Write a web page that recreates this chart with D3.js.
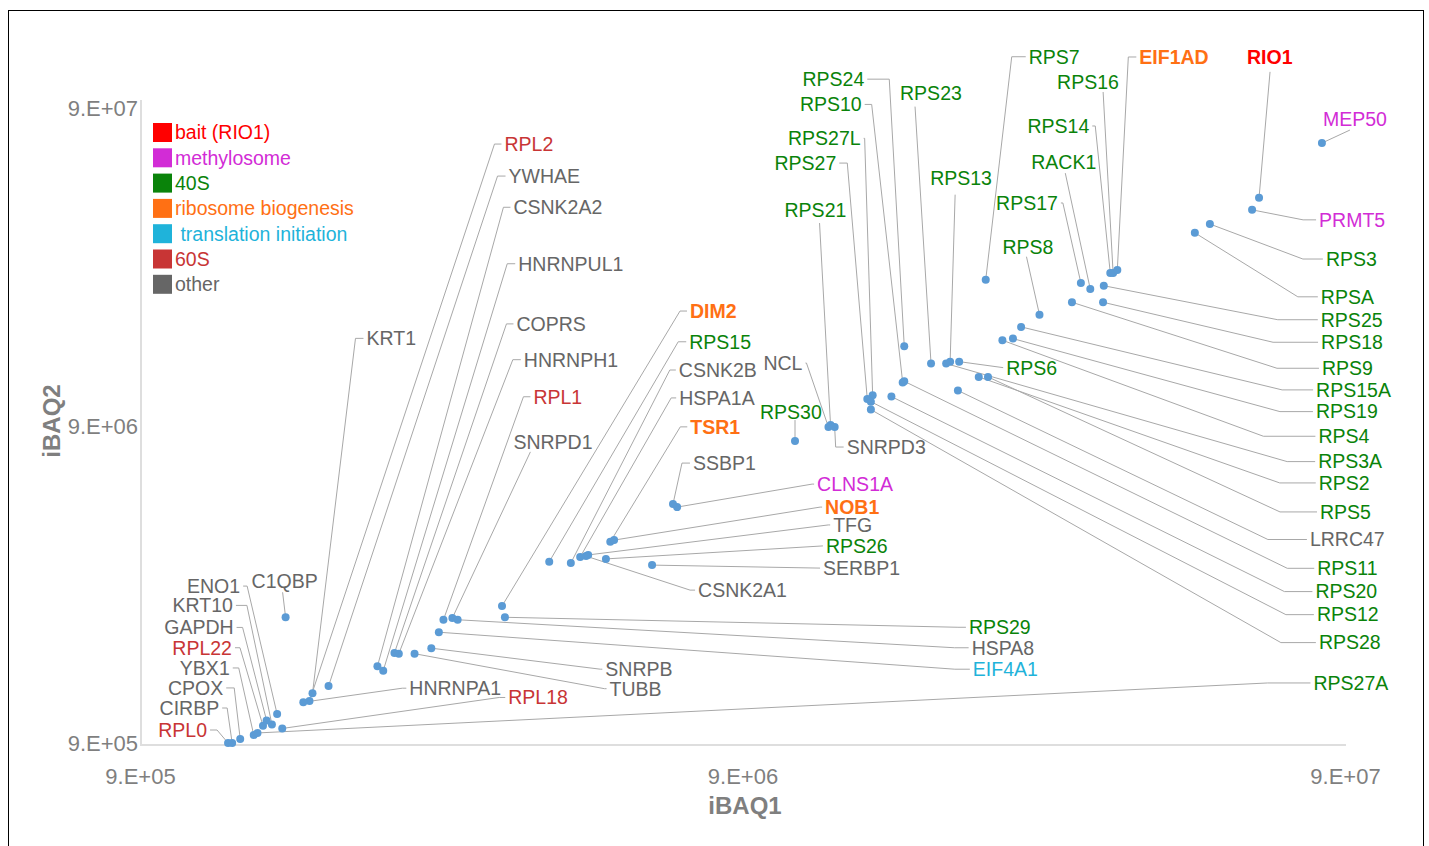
<!DOCTYPE html>
<html>
<head>
<meta charset="utf-8">
<script src="https://cdn.jsdelivr.net/npm/d3@7"></script>
<style>
body { margin: 0; background: #fff; }
svg { display: block; font-family: "Liberation Sans", Arial, Helvetica, sans-serif; }
</style>
</head>
<body>
<svg id="chart" width="1429" height="846"></svg>
<script>
// proteins, their group and the two iBAQ intensities
var proteins = ["RIO1","MEP50","PRMT5","CLNS1A","EIF1AD","DIM2","TSR1","NOB1","EIF4A1","RPL2","RPL1","RPL22","RPL0","RPL18",
	"RPS7","RPS16","RPS24","RPS10","RPS23","RPS27L","RPS27","RPS13","RPS21","RPS14","RACK1","RPS17","RPS8","RPS6","RPS30","RPS15","RPS26","RPS29",
	"RPS3","RPSA","RPS25","RPS18","RPS9","RPS15A","RPS19","RPS4","RPS3A","RPS2","RPS5","RPS11","RPS20","RPS12","RPS28","RPS27A",
	"LRRC47","NCL","SNRPD3","SSBP1","TFG","CSNK2A1","SERBP1","CSNK2B","HSPA1A","SNRPD1","HSPA8","HNRNPH1","COPRS","HNRNPUL1","CSNK2A2",
	"SNRPB","TUBB","YWHAE","KRT1","HNRNPA1","C1QBP","ENO1","KRT10","GAPDH","YBX1","CPOX","CIRBP"];

var groups = ["bait","methylosome","methylosome","methylosome","ribosome biogenesis","ribosome biogenesis","ribosome biogenesis","ribosome biogenesis",
	"translation initiation","60S","60S","60S","60S","60S",
	"40S","40S","40S","40S","40S","40S","40S","40S","40S","40S","40S","40S","40S","40S","40S","40S","40S","40S",
	"40S","40S","40S","40S","40S","40S","40S","40S","40S","40S","40S","40S","40S","40S","40S","40S",
	"other","other","other","other","other","other","other","other","other","other","other","other","other","other","other",
	"other","other","other","other","other","other","other","other","other","other","other","other"];

var iBAQ1 = [6.48e7,8.24e7,6.31e7,7.01e6,3.77e7,3.59e6,5.43e6,5.51e6,2.82e6,1.72e6,2.87e6,1.44e6,1.26e6,1.55e6,
	2.28e7,3.71e7,1.67e7,1.66e7,1.85e7,1.48e7,1.45e7,1.99e7,1.26e7,3.67e7,3.40e7,3.28e7,2.80e7,2.06e7,1.10e7,4.30e6,5.34e6,3.63e6,
	5.37e7,5.07e7,3.58e7,3.57e7,3.17e7,2.61e7,2.53e7,2.43e7,1.96e7,2.22e7,2.30e7,1.67e7,1.59e7,1.47e7,1.47e7,1.41e6,
	2.05e7,1.25e7,1.28e7,6.90e6,4.99e6,4.95e6,6.37e6,4.67e6,4.84e6,2.97e6,3.03e6,2.42e6,2.38e6,2.28e6,2.23e6,
	2.74e6,2.57e6,1.85e6,1.74e6,1.68e6,1.57e6,1.52e6,1.49e6,1.46e6,1.39e6,1.32e6,1.28e6];

var iBAQ2 = [4.69e7,6.98e7,4.30e7,4.98e6,2.78e7,2.43e6,3.87e6,3.92e6,2.01e6,1.22e6,2.20e6,1.02e6,9.0e5,1.00e6,
	2.59e7,2.72e7,1.60e7,1.23e7,1.41e7,1.12e7,1.09e7,1.43e7,9.03e6,2.72e7,2.42e7,2.53e7,2.01e7,1.43e7,8.04e6,3.35e6,3.42e6,2.24e6,
	3.88e7,3.64e7,2.48e7,2.20e7,2.20e7,1.84e7,1.69e7,1.67e7,1.41e7,1.28e7,1.28e7,1.24e7,1.11e7,1.07e7,1.01e7,9.68e5,
	1.16e7,8.90e6,8.90e6,5.09e6,3.52e6,3.49e6,3.27e6,3.32e6,3.47e6,2.23e6,2.20e6,1.72e6,1.73e6,1.52e6,1.57e6,
	1.79e6,1.72e6,1.36e6,1.29e6,1.21e6,2.24e6,1.11e6,1.03e6,1.06e6,9.54e5,9.27e5,9.0e5];

var groupKeys   = ["bait","methylosome","40S","ribosome biogenesis","translation initiation","60S","other"];
var legendNames = ["bait (RIO1)","methylosome","40S","ribosome biogenesis"," translation initiation","60S","other"];
var groupColors = ["#ff0000","#d22cd6","#0a830a","#ff7014","#1fb3da","#c83535","#666666"];
var boldGroups  = ["bait","ribosome biogenesis"];

var axisTicks = [9e5, 9e6, 9e7];

// label placement, pixel offsets from each point:
// [kind, text dx, text dy, elbow dx, elbow dy]
// s = elbow then label to the right, e = elbow then label to the left, d = straight line
var leaders = [
	["d",-12,-141,11,-126],["d",1,-24,28,-13],["s",67,10,51],["s",140,-23,135],["s",22,-213,11],["s",188,-295,178],
	["s",80,-115,70],["s",211,-33,206],["s",534,37,516],["s",195,-557,185],["s",90,-223,80],["e",-31,-78,-23],
	["e",-21,-13,-11],["s",226,-31,217],
	["s",43,-223,26],["d",-56,-191,-10,-181],["e",-40,-267,-15],["e",-41,-278,-31],["d",-31,-270,-16,-257],["e",-12,-257,-8],
	["e",-31,-236,-20],["d",-20,-183,5,-167],["d",-46,-215,-11,-202],["e",-21,-147,-15],["d",-59,-127,-25,-116],["e",-23,-80,-18],
	["d",-37,-68,-13,-58],["d",47,7,44,6],["d",-35,-29,0,-21],["s",140,-220,129],["s",220,-13,217],["s",464,10,453],
	["s",116,35,93],["s",126,64,103],["s",217,34,174],["s",218,40,170],["s",250,66,205],["s",295,63,261],["s",303,73,267],
	["s",316,96,261],["s",372,98,341],["s",340,106,301],["s",332,135,292],["s",413,187,383],["s",424,195,393],["s",446,213,415],
	["s",448,233,410],["s",1056,-50,1010],
	["s",352,149,310],["e",-26,-64,-22],["s",12,20,1],["s",20,-41,9],["s",245,-30,240],["s",112,34,104],["s",171,3,168],
	["s",108,-193,99],["s",99,-159,91],["d",61,-176,78,-166],["s",514,28,497],["s",125,-294,114],["s",122,-329,112],
	["s",135,-407,124],["s",136,-459,126],["s",174,21,169],["s",195,35,190],["s",180,-510,169],["s",54,-355,43],
	["s",106,-14,99],["d",-34,-36,-3,-25],["e",-37,-128,-30],["e",-39,-119,-25],["e",-33,-93,-24],["e",-24,-67,-15],
	["e",-17,-51,-6],["e",-13,-35,-5]
];

var color = d3.scaleOrdinal().domain(groupKeys).range(groupColors);

var svg = d3.select("#chart");

var x = d3.scaleLog().domain([9e5, 9e7]).range([140, 1345]);
var y = d3.scaleLog().domain([9e5, 9e7]).range([743, 108]);

function sci(d) {
	var e = Math.floor(Math.log10(d) + 1e-9);
	var m = Math.round(d / Math.pow(10, e));
	return m + ".E+" + (e < 10 ? "0" + e : e);
}

svg.append("rect")
	.attr("x", 8.5).attr("y", 10.5)
	.attr("width", 1415).attr("height", 850)
	.attr("fill", "none").attr("stroke", "#000").attr("stroke-width", 1);

// axes
var xAxis = svg.append("g")
	.attr("transform", "translate(0,745)")
	.call(d3.axisBottom(x).tickValues(axisTicks).tickFormat(sci).tickSize(0).tickPadding(31));
xAxis.select(".domain").attr("d", "M140,0H1346").attr("stroke", "#dedede").attr("stroke-width", 2);
xAxis.selectAll("text").attr("dy", "0.35em").attr("font-size", 22).attr("fill", "#7f7f7f")
	.attr("font-family", "Liberation Sans, Arial, sans-serif");

var yAxis = svg.append("g")
	.attr("transform", "translate(141,0)")
	.call(d3.axisLeft(y).tickValues(axisTicks).tickFormat(sci).tickSize(0).tickPadding(3));
yAxis.select(".domain").attr("d", "M0,100V746").attr("stroke", "#dedede").attr("stroke-width", 2);
yAxis.selectAll("text").attr("dy", "0.35em").attr("font-size", 22).attr("fill", "#7f7f7f")
	.attr("font-family", "Liberation Sans, Arial, sans-serif");

svg.append("text")
	.attr("x", 745).attr("y", 806).attr("dy", "0.35em")
	.attr("text-anchor", "middle").attr("font-size", 24).attr("font-weight", "bold").attr("fill", "#7f7f7f")
	.text("iBAQ1");

svg.append("text")
	.attr("transform", "translate(52,421) rotate(-90)").attr("dy", "0.35em")
	.attr("text-anchor", "middle").attr("font-size", 24).attr("font-weight", "bold").attr("fill", "#7f7f7f")
	.text("iBAQ2");

var points = proteins.map(function(name, i) {
	return {name: name, group: groups[i], v1: iBAQ1[i], v2: iBAQ2[i], lead: leaders[i]};
});

// leader lines
svg.append("g").selectAll("path")
	.data(points)
	.enter().append("path")
	.attr("fill", "none")
	.attr("stroke", "#a8a8a8")
	.attr("stroke-width", 1)
	.attr("d", function(d) {
		var px = x(d.v1), py = y(d.v2), l = d.lead;
		if (l[0] === "d") {
			return "M" + px + "," + py + "L" + (px + l[3]) + "," + (py + l[4]);
		}
		var ey = py + l[2];
		var end = l[0] === "s" ? px + l[1] - 3 : px + l[1] + 3;
		return "M" + px + "," + py + "L" + (px + l[3]) + "," + ey + "L" + end + "," + ey;
	});

// points
svg.append("g").selectAll("circle")
	.data(points)
	.enter().append("circle")
	.attr("cx", function(d) { return x(d.v1); })
	.attr("cy", function(d) { return y(d.v2); })
	.attr("r", 4)
	.attr("fill", "#5b9bd5");

// labels
svg.append("g").selectAll("text")
	.data(points)
	.enter().append("text")
	.attr("x", function(d) { return x(d.v1) + d.lead[1]; })
	.attr("y", function(d) { return y(d.v2) + d.lead[2]; })
	.attr("dy", "0.35em")
	.attr("text-anchor", function(d) { return d.lead[0] === "e" ? "end" : "start"; })
	.attr("font-size", 19.5)
	.attr("font-weight", function(d) { return boldGroups.indexOf(d.group) >= 0 ? "bold" : "normal"; })
	.attr("fill", function(d) { return color(d.group); })
	.text(function(d) { return d.name; });

// legend
var legend = svg.append("g").attr("transform", "translate(153,123)");
var rows = legend.selectAll("g")
	.data(groupKeys)
	.enter().append("g")
	.attr("transform", function(d, i) { return "translate(0," + (i * 25.3) + ")"; });
rows.append("rect")
	.attr("width", 19).attr("height", 19)
	.attr("fill", function(d) { return color(d); });
rows.append("text")
	.attr("x", 22).attr("y", 9.5).attr("dy", "0.35em")
	.attr("font-size", 19.5)
	.style("white-space", "pre")
	.attr("fill", function(d) { return color(d); })
	.text(function(d, i) { return legendNames[i]; });
</script>
</body>
</html>
